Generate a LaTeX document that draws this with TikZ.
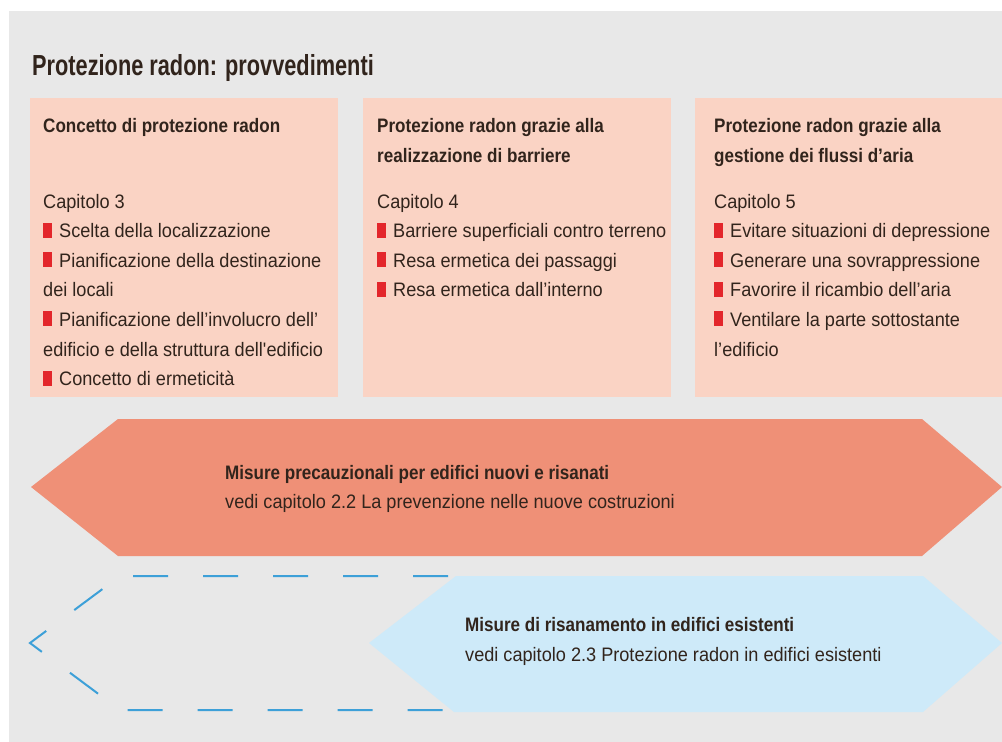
\documentclass[tikz,border=0pt]{standalone}
\usepackage{fontspec}
\newfontfamily\bodyfont{Liberation Sans}[FakeStretch=0.93]
\newfontfamily\headfont{Liberation Sans}[FakeStretch=0.875]
\newfontfamily\titlefont{Liberation Sans}[FakeStretch=0.75]
\definecolor{bggray}{HTML}{E8E8E8}
\definecolor{peach}{HTML}{FAD3C4}
\definecolor{txt}{HTML}{31241C}
\definecolor{bulred}{HTML}{E3262B}
\definecolor{orangehex}{HTML}{EF9077}
\definecolor{bluehex}{HTML}{CEEAF9}
\definecolor{dashblue}{HTML}{3DA0D8}
\newcommand{\bul}{{\color{bulred}\rule{9pt}{15pt}}\hspace{7pt}}
\tikzset{
  panel/.style={fill=peach, draw=none},
  headtxt/.style={anchor=base west, inner sep=0pt, align=left, text=txt,
    font=\headfont\bfseries\fontsize{19.5}{30}\selectfont},
  bodytxt/.style={anchor=base west, inner sep=0pt, align=left, text=txt,
    font=\bodyfont\fontsize{19.5}{29.6}\selectfont},
}
\begin{document}
\begin{tikzpicture}[x=1pt,y=-1pt]
\useasboundingbox (0,0) rectangle (1002,742);
\fill[bggray] (9,11) rectangle (1002,742);
\node[anchor=base west, inner sep=0pt, text=txt, font=\titlefont\bfseries\fontsize{29}{32}\selectfont] (title) at (32,75) {Protezione radon: provvedimenti};
% panels (multi-line nodes are placed by the baseline of their last line)
\fill[panel] (30,98) rectangle (338,397);
\fill[panel] (363,98) rectangle (671,397);
\fill[panel] (695,98) rectangle (1002,397);
\node[headtxt] (h1) at (43,132) {Concetto di protezione radon};
\node[bodytxt] (l1) at (43,385.6) {Capitolo 3\\
\bul Scelta della localizzazione\\
\bul Pianificazione della destinazione\\
dei locali\\
\bul Pianificazione dell’involucro dell’\\
edificio e della struttura dell\textquotesingle edificio\\
\bul Concetto di ermeticità};
\node[headtxt] (h2) at (377,162) {Protezione radon grazie alla\\realizzazione di barriere};
\node[bodytxt] (l2) at (377,296.8) {Capitolo 4\\
\bul Barriere superficiali contro terreno\\
\bul Resa ermetica dei passaggi\\
\bul Resa ermetica dall’interno};
\node[headtxt] (h3) at (714,162) {Protezione radon grazie alla\\gestione dei flussi d’aria};
\node[bodytxt] (l3) at (714,356) {Capitolo 5\\
\bul Evitare situazioni di depressione\\
\bul Generare una sovrappressione\\
\bul Favorire il ricambio dell’aria\\
\bul Ventilare la parte sottostante\\
l’edificio};
% orange hexagon
\fill[orangehex] (31,487) -- (118,419) -- (922,419) -- (1002,487) -- (922,556) -- (118,556) -- cycle;
\node[headtxt, font=\headfont\bfseries\fontsize{19.5}{30}\selectfont] (o1) at (225,479) {Misure precauzionali per edifici nuovi e risanati};
\node[bodytxt] (o2) at (225,508) {vedi capitolo 2.2 La prevenzione nelle nuove costruzioni};
% dashed outline
\draw[dashblue, line width=2pt, dash pattern=on 35pt off 35pt]
  (448,576) -- (120,576) -- (30,643) -- (120,710) -- (448,710);
% blue hexagon
\fill[bluehex] (369,643) -- (456,576) -- (923,576) -- (1002,643) -- (923,712) -- (454,712) -- cycle;
\node[headtxt] (b1) at (465,631) {Misure di risanamento in edifici esistenti};
\node[bodytxt] (b2) at (465,661) {vedi capitolo 2.3 Protezione radon in edifici esistenti};
\end{tikzpicture}
\end{document}
